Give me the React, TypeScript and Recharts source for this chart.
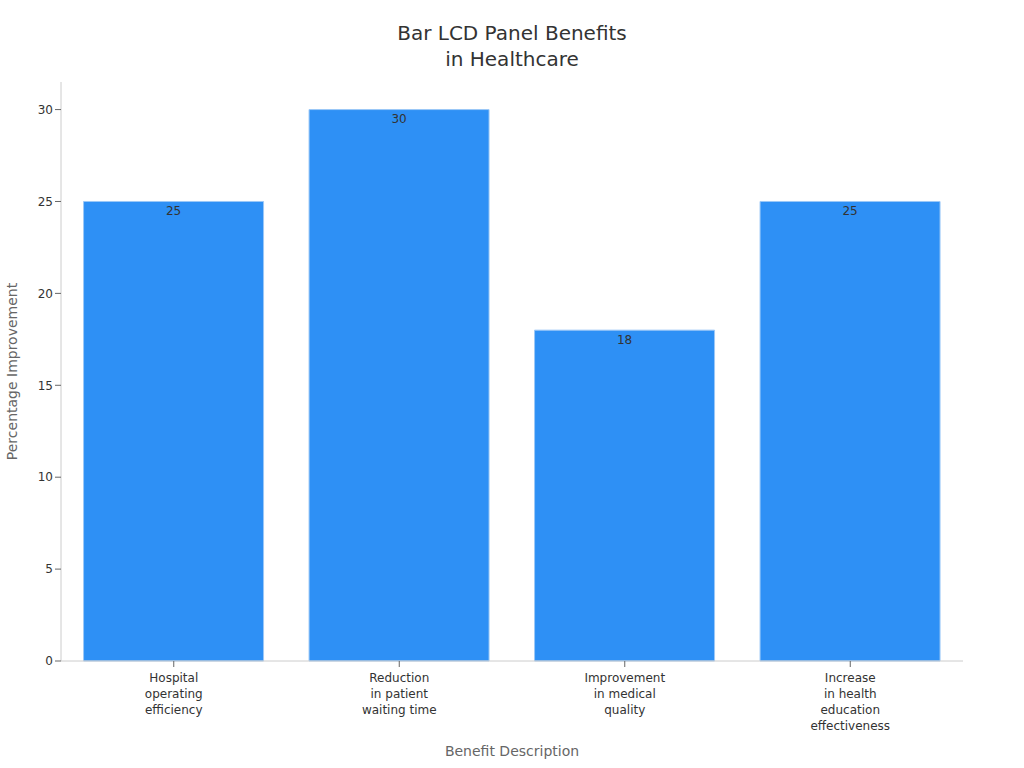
import { BarChart, Bar, XAxis, YAxis, LabelList, Label } from "recharts";

const categories = [
  "Hospital\noperating\nefficiency",
  "Reduction\nin patient\nwaiting time",
  "Improvement\nin medical\nquality",
  "Increase\nin health\neducation\neffectiveness",
];
const improvement = [25, 30, 18, 25];
const yTicks = [0, 5, 10, 15, 20, 25, 30];

const chartData = categories.map((name, i) => ({
  name,
  value: improvement[i],
}));

const FONT = "'DejaVu Sans', sans-serif";

const CategoryTick = (props: any) => {
  const { x, y, payload } = props;
  const lines = String(payload.value).split("\n");
  return (
    <text
      x={x}
      y={y + 4}
      textAnchor="middle"
      fill="#333"
      fontSize={12}
      fontFamily={FONT}
    >
      {lines.map((line, i) => (
        <tspan key={i} x={x} dy={i === 0 ? "0.71em" : 16}>
          {line}
        </tspan>
      ))}
    </text>
  );
};

export default function App() {
  return (
    <div
      style={{
        position: "absolute",
        top: 0,
        left: 0,
        width: 1024,
        height: 768,
        background: "#fff",
        fontFamily: FONT,
      }}
    >
      <div
        style={{
          position: "absolute",
          top: 20,
          left: 0,
          width: 1024,
          textAlign: "center",
          fontSize: 20,
          lineHeight: "26px",
          color: "#333",
        }}
      >
        Bar LCD Panel Benefits
        <br />
        in Healthcare
      </div>
      <BarChart
        width={1024}
        height={768}
        data={chartData}
        margin={{ top: 82, right: 61, left: 1, bottom: 0 }}
        barCategoryGap="10%"
      >
        <XAxis
          dataKey="name"
          height={107}
          interval={0}
          stroke="#ccc"
          tickLine={{ stroke: "#666" }}
          tick={<CategoryTick />}
        >
          <Label
            value="Benefit Description"
            position="insideBottom"
            offset={12}
            fill="#666"
            fontSize={14}
            fontFamily={FONT}
          />
        </XAxis>
        <YAxis
          width={60}
          domain={[0, 31.5]}
          ticks={yTicks}
          stroke="#ccc"
          tickLine={{ stroke: "#666" }}
          tick={{ fill: "#333", fontSize: 12, fontFamily: FONT }}
        >
          <Label
            value="Percentage Improvement"
            angle={-90}
            position="insideLeft"
            offset={11}
            style={{ textAnchor: "middle" }}
            fill="#666"
            fontSize={14}
            fontFamily={FONT}
          />
        </YAxis>
        <Bar
          dataKey="value"
          fill="#2E90F5"
          stroke="#9cc8f7"
          strokeWidth={1}
          isAnimationActive={false}
        >
          <LabelList
            dataKey="value"
            position="insideTop"
            fill="#333"
            fontSize={12}
            fontFamily={FONT}
          />
        </Bar>
      </BarChart>
    </div>
  );
}
